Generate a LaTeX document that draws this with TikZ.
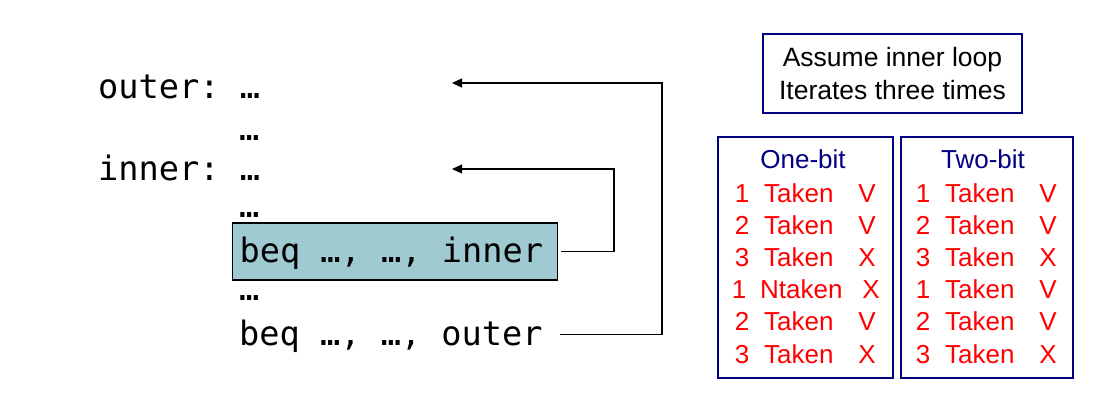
\documentclass[tikz,border=0pt]{standalone}
\usepackage{fontspec}
\setmainfont{Liberation Sans}
\newfontfamily\monofont[WordSpace={1,0,0}]{DejaVu Sans Mono}
\usetikzlibrary{arrows.meta}
\definecolor{navyc}{RGB}{0,0,128}
\definecolor{hlfill}{RGB}{160,202,210}
\definecolor{redc}{RGB}{255,0,0}
\newcommand\mdots{\makebox[0.602em][c]{…}}
\newcommand\msp{\hspace*{0.602em}}
\begin{document}
\begin{tikzpicture}[x=1pt,y=-1pt,
  code/.style={font=\monofont\fontsize{33.6}{40}\selectfont, anchor=base west, inner sep=0pt},
  beqline/.style={code, text width=311pt, align=left, inner xsep=7pt, inner ysep=0pt,
    text height=39pt, text depth=18pt, anchor=base west},
  conn/.style={draw=black, line width=1.2pt, -{Triangle[length=10pt,width=9pt]}},
  navybox/.style={draw=navyc, line width=1.4pt, inner sep=0pt},
  sans/.style={font=\fontsize{26}{33}\selectfont, inner sep=0pt},
  title/.style={sans, text=navyc, anchor=base},
  redtxt/.style={sans, text=redc, anchor=base},
  redleft/.style={sans, text=redc, anchor=base west}]
\path[use as bounding box, fill=white] (0,0) rectangle (1102,410);

% code listing
\node[code] (l1) at (98,98) {outer:\msp\mdots};
\node[code] (l2) at (239,140) {\mdots};
\node[code] (l3) at (98,180) {inner:\msp\mdots};
\node[code] (l4) at (239,217) {\mdots};
\node[beqline, draw=black, line width=1.2pt, fill=hlfill] (bi) at (232,262)
  {beq\msp\mdots,\msp\mdots,\msp inner};
\node[code] (l6) at (239,300) {\mdots};
\node[beqline] (bo) at (232,345) {beq\msp\mdots,\msp\mdots,\msp outer};

% connectors
\coordinate (ti) at (452,169);
\coordinate (ci) at (614,169);
\coordinate (to) at (452,83);
\coordinate (co) at (662,83);
\draw[conn] ([xshift=3pt]bi.east) -| (ci) -- (ti);
\draw[conn] ([xshift=3pt]bo.east) -| (co) -- (to);

% assumption box
\node[navybox, minimum width=259pt, minimum height=79pt, align=center,
  font=\fontsize{26.5}{33}\selectfont] (assume) at (892.5,73.5)
  {Assume inner loop\\Iterates three times};

% predictor tables
\node[navybox, minimum width=175pt, minimum height=241pt] (one) at (805.5,257.5) {};
\node[navybox, minimum width=172pt, minimum height=241pt] (two) at (987,257.5) {};
\node[title] (onet) at (803,168) {One-bit};
\node[title] (twot) at (983,168) {Two-bit};

\foreach \n/\w/\m/\xn/\xw/\xm [count=\i] in
  {1/Taken/V/742/764/867, 2/Taken/V/742/764/867, 3/Taken/X/742/764/867,
   1/Ntaken/X/739/760/871, 2/Taken/V/742/764/867, 3/Taken/X/742/764/867} {
  \node[redtxt] (on\i) at (\xn,{202+32.2*(\i-1)}) {\n};
  \node[redleft] (ow\i) at (\xw,{202+32.2*(\i-1)}) {\w};
  \node[redtxt] (om\i) at (\xm,{202+32.2*(\i-1)}) {\m};
}
\foreach \n/\w/\m [count=\i] in
  {1/Taken/V, 2/Taken/V, 3/Taken/X, 1/Taken/V, 2/Taken/V, 3/Taken/X} {
  \node[redtxt] (tn\i) at (923,{202+32.2*(\i-1)}) {\n};
  \node[redleft] (tw\i) at (945,{202+32.2*(\i-1)}) {\w};
  \node[redtxt] (tm\i) at (1048,{202+32.2*(\i-1)}) {\m};
}
\end{tikzpicture}
\end{document}
